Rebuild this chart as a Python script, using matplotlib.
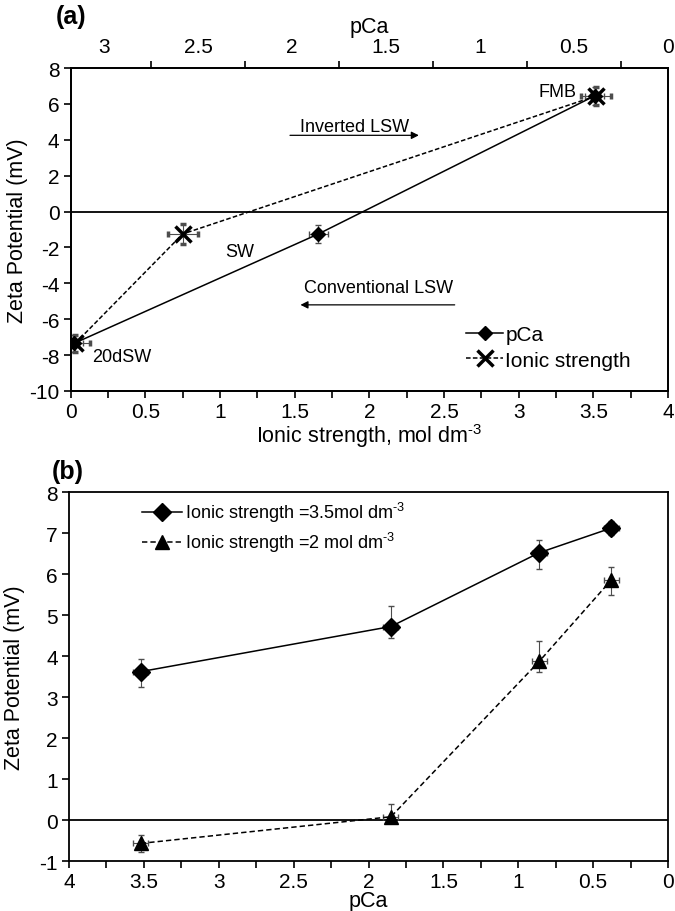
import matplotlib
matplotlib.use('Agg')
from matplotlib import pyplot as plt
from matplotlib.ticker import MultipleLocator, FormatStrFormatter
import numpy as np

plt.rcParams['font.family'] = ['Liberation Sans', 'DejaVu Sans']
plt.rcParams['axes.unicode_minus'] = False
plt.rcParams['mathtext.fontset'] = 'custom'
plt.rcParams['mathtext.rm'] = 'Liberation Sans'

# panel (a) data
labels_a = ['20dSW', 'SW', 'FMB']
pca_a = [3.16, 1.86, 0.39]
pca_a_xerr = [0.05, 0.05, 0.05]
ionic_a = [0.03, 0.75, 3.52]
ionic_a_xerr = [0.1, 0.1, 0.1]
zeta_pca_a = [-7.35, -1.25, 6.45]
zeta_pca_a_err = [0.45, 0.5, 0.5]
zeta_ionic_a = [-7.35, -1.25, 6.45]
zeta_ionic_a_err = [0.45, 0.55, 0.5]

# panel (b) data
pca_b = [3.52, 1.85, 0.86, 0.38]
pca_b_xerr = [0.05, 0.05, 0.05, 0.05]
zeta_35 = [3.62, 4.72, 6.52, 7.12]
zeta_35_up = [0.3, 0.5, 0.3, 0.18]
zeta_35_dn = [0.38, 0.28, 0.4, 0.18]
zeta_2 = [-0.57, 0.08, 3.87, 5.85]
zeta_2_up = [0.2, 0.3, 0.5, 0.33]
zeta_2_dn = [0.2, 0.15, 0.27, 0.35]

TICK = 15
LAB = 15.5
ANN = 13
SUP = r'$^{\text{-3}}$'

fig = plt.figure(figsize=(6.75, 9.12), dpi=100)

ecol = '0.3'
# ---------- (a) ----------
ax = fig.add_axes([0.1047, 0.5702, 0.885, 0.3541])
ax2 = ax.twiny()
ax.set_xlim(0, 4)
ax.set_ylim(-10, 8)
ax2.set_xlim(3.177, 0)

ax.axhline(0, color='k', lw=1.3, zorder=1)
h2 = ax.errorbar(ionic_a, zeta_ionic_a, yerr=zeta_ionic_a_err, xerr=ionic_a_xerr,
                 color='k', ls='--', lw=1.1, marker='x', ms=12, mew=2.5,
                 ecolor=ecol, elinewidth=0.8, capsize=2.5, dashes=(3, 1.5))
h1 = ax2.errorbar(pca_a, zeta_pca_a, yerr=zeta_pca_a_err, xerr=pca_a_xerr,
                  color='k', ls='-', lw=1.1, marker='D', ms=7.5,
                  ecolor=ecol, elinewidth=0.8, capsize=2.5)

ax.xaxis.set_major_locator(MultipleLocator(0.5))
ax.xaxis.set_minor_locator(MultipleLocator(0.25))
ax.yaxis.set_major_locator(MultipleLocator(2))
ax.xaxis.set_major_formatter(FormatStrFormatter('%g'))
ax2.set_xticks([3, 2.5, 2, 1.5, 1, 0.5, 0])
ax2.set_xticklabels(['3', '2.5', '2', '1.5', '1', '0.5', '0'])
ax2.set_xticks([2.75, 2.25, 1.75, 1.25, 0.75, 0.25], minor=True)
ax2.tick_params(axis='x', which='major', length=0, labelsize=TICK, pad=9)
ax2.tick_params(axis='x', which='minor', length=5, width=1.2)
ax.tick_params(axis='both', which='major', direction='out', length=5, width=1.2,
               labelsize=TICK, pad=3)
ax.tick_params(axis='x', which='minor', direction='out', length=5, width=1.2)
for a in (ax, ax2):
    for s in a.spines.values():
        s.set_linewidth(1.3)

ax.set_xlabel('Ionic strength, mol dm' + SUP, fontsize=LAB, labelpad=0)
ax.set_ylabel('Zeta Potential (mV)', fontsize=LAB, labelpad=1)
ax2.set_xlabel('pCa', fontsize=LAB, labelpad=3)

ax.text(3.26, 6.7, 'FMB', fontsize=ANN, ha='center', va='center')
ax.text(1.13, -2.2, 'SW', fontsize=ANN, ha='center', va='center')
ax.text(0.34, -8.1, '20dSW', fontsize=ANN, ha='center', va='center')
ax.text(1.9, 4.75, 'Inverted LSW', fontsize=ANN, ha='center', va='center')
ax.annotate('', xy=(2.35, 4.25), xytext=(1.45, 4.25),
            arrowprops=dict(arrowstyle='-|>', color='k', lw=0.9, mutation_scale=11))
ax.text(2.06, -4.25, 'Conventional LSW', fontsize=ANN, ha='center', va='center')
ax.annotate('', xy=(1.52, -5.2), xytext=(2.59, -5.2),
            arrowprops=dict(arrowstyle='-|>', color='k', lw=0.9, mutation_scale=11))

ax.legend([h1[0], h2[0]], ['pCa', 'Ionic strength'], loc='center left',
          bbox_to_anchor=(0.63, 0.135), frameon=False, fontsize=15,
          handlelength=1.8, handletextpad=0.1, labelspacing=0.3)

fig.text(0.083, 0.981, '(a)', fontsize=18, fontweight='bold', va='center')

# ---------- (b) ----------
bx = fig.add_axes([0.1022, 0.0548, 0.8875, 0.4046])
bx.set_xlim(4, 0)
bx.set_ylim(-1, 8)
bx.axhline(0, color='k', lw=1.3, zorder=1)
g1 = bx.errorbar(pca_b, zeta_35, yerr=[zeta_35_dn, zeta_35_up], xerr=pca_b_xerr,
                 color='k', ls='-', lw=1.1, marker='D', ms=9,
                 ecolor=ecol, elinewidth=0.8, capsize=2.5)
g2 = bx.errorbar(pca_b, zeta_2, yerr=[zeta_2_dn, zeta_2_up], xerr=pca_b_xerr,
                 color='k', ls='--', lw=1.1, marker='^', ms=10,
                 ecolor=ecol, elinewidth=0.8, capsize=2.5, dashes=(3.5, 2))
bx.xaxis.set_major_locator(MultipleLocator(0.5))
bx.xaxis.set_minor_locator(MultipleLocator(0.25))
bx.yaxis.set_major_locator(MultipleLocator(1))
bx.xaxis.set_major_formatter(FormatStrFormatter('%g'))
bx.tick_params(axis='both', which='major', direction='out', length=5, width=1.2,
               labelsize=TICK, pad=3)
bx.tick_params(axis='x', which='minor', direction='out', length=5, width=1.2)
for s in bx.spines.values():
    s.set_linewidth(1.3)
bx.set_xlabel('pCa', fontsize=LAB, labelpad=-1)
bx.set_ylabel('Zeta Potential (mV)', fontsize=LAB, labelpad=10)
bx.legend([g1[0], g2[0]], ['Ionic strength =3.5mol dm' + SUP, 'Ionic strength =2 mol dm' + SUP],
          loc='center left', bbox_to_anchor=(0.095, 0.905), frameon=False, fontsize=13,
          handlelength=2.2, handletextpad=0.2, labelspacing=0.35)
fig.text(0.077, 0.482, '(b)', fontsize=18, fontweight='bold', va='center')

fig.savefig('out.png', dpi=100)
